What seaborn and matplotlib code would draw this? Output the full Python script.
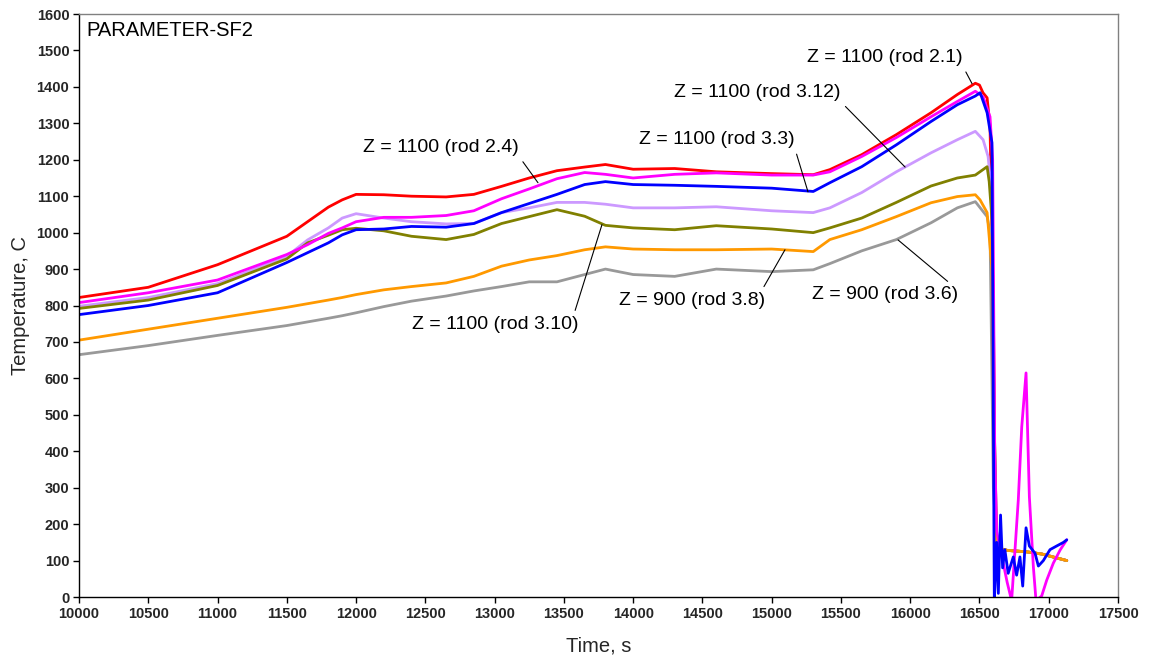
import matplotlib
matplotlib.use("Agg")
import matplotlib.pyplot as plt
import seaborn as sns
import pandas as pd

# ---- data ----
t_main = [10000, 10500, 11000, 11500, 11650, 11800, 11900, 12000, 12200, 12400,
          12650, 12850, 13050, 13250, 13450, 13650, 13800, 14000, 14300, 14600,
          15000, 15300, 15420, 15650, 15900, 16150, 16340, 16470]

red_main = [822, 850, 912, 990, 1030, 1070, 1090, 1105, 1104, 1100,
            1098, 1105, 1127, 1150, 1170, 1180, 1187, 1174, 1176, 1167,
            1162, 1159, 1173, 1214, 1269, 1329, 1379, 1410]
magenta_main = [808, 835, 870, 940, 967, 998, 1013, 1030, 1042, 1042,
                1047, 1060, 1093, 1120, 1148, 1165, 1160, 1150, 1160, 1164,
                1158, 1158, 1167, 1209, 1261, 1318, 1360, 1388]
blue_main = [775, 800, 835, 918, 945, 972, 994, 1008, 1010, 1017,
             1015, 1025, 1055, 1080, 1105, 1132, 1140, 1132, 1130, 1127,
             1122, 1113, 1137, 1181, 1241, 1305, 1351, 1375]
violet_main = [798, 822, 860, 935, 980, 1013, 1040, 1052, 1040, 1030,
               1024, 1025, 1055, 1068, 1083, 1083, 1078, 1068, 1068, 1071,
               1060, 1055, 1068, 1110, 1167, 1219, 1255, 1278]
olive_main = [792, 815, 855, 928, 972, 993, 1008, 1012, 1005, 990,
              981, 995, 1025, 1044, 1063, 1045, 1020, 1013, 1008, 1019,
              1010, 1000, 1013, 1040, 1083, 1128, 1150, 1158]
orange_main = [705, 735, 765, 795, 805, 815, 822, 830, 843, 852,
               862, 880, 908, 925, 937, 953, 961, 955, 953, 953,
               955, 948, 981, 1008, 1044, 1082, 1099, 1104]
gray_main = [665, 690, 718, 745, 755, 765, 772, 780, 797, 812,
             826, 840, 852, 865, 865, 885, 900, 885, 880, 900,
             893, 898, 915, 950, 981, 1027, 1068, 1085]

# end of heating and quench
red_t_end = [16500, 16525, 16555, 16576, 16600, 16612]
red_v_end = [1405, 1384, 1370, 1291, 800, 300]
magenta_t_end = [16526, 16576, 16595, 16610]
magenta_v_end = [1373, 1318, 1200, 400]
blue_t_end = [16505, 16555, 16590]
blue_v_end = [1384, 1329, 1247]
violet_t_end = [16526, 16562, 16590, 16605]
violet_v_end = [1255, 1209, 1100, 500]
olive_t_end = [16555, 16570, 16590, 16605]
olive_v_end = [1181, 1140, 1036, 500]
orange_t_end = [16504, 16555, 16590, 16605]
orange_v_end = [1090, 1055, 900, 400]
gray_t_end = [16555, 16576, 16590, 16600]
gray_v_end = [1044, 1000, 600, 300]

# common post-quench tail
tail_t = [16625, 16700, 16840, 16950, 17050, 17130]
tail_v = [135, 128, 124, 118, 108, 100]

magenta_tail_t = [16624, 16700, 16732, 16780, 16805, 16836, 16860, 16889, 16908,
                  16949, 16985, 17033, 17082, 17130]
magenta_tail_v = [180, 40, -10, 266, 467, 615, 275, 82, -10,
                  3, 46, 93, 129, 157]
blue_tail_t = [16607, 16624, 16636, 16652, 16667, 16683, 16707, 16744, 16768,
               16792, 16812, 16836, 16860, 16901, 16925, 16961, 17009, 17057,
               17106, 17130]
blue_tail_v = [-10, 150, 10, 225, 80, 130, 65, 110, 60,
               110, 30, 190, 140, 120, 85, 100, 130, 140,
               150, 157]

labels = ["Z = 1100 (rod 2.1)", "Z = 1100 (rod 3.12)", "Z = 1100 (rod 3.10)",
          "Z = 900 (rod 3.6)", "Z = 900 (rod 3.8)", "Z = 1100 (rod 2.4)",
          "Z = 1100 (rod 3.3)"]
colors = ["#FF0000", "#CC99FF", "#808000", "#999999", "#FF9900", "#FF00FF", "#0000FF"]

series_t = [
    t_main + red_t_end + tail_t,
    t_main + violet_t_end + tail_t,
    t_main + olive_t_end + tail_t,
    t_main + gray_t_end + tail_t,
    t_main + orange_t_end + tail_t,
    t_main + magenta_t_end + magenta_tail_t,
    t_main + blue_t_end + blue_tail_t,
]
series_v = [
    red_main + red_v_end + tail_v,
    violet_main + violet_v_end + tail_v,
    olive_main + olive_v_end + tail_v,
    gray_main + gray_v_end + tail_v,
    orange_main + orange_v_end + tail_v,
    magenta_main + magenta_v_end + magenta_tail_v,
    blue_main + blue_v_end + blue_tail_v,
]

rows = []
for lab, ts, vs in zip(labels, series_t, series_v):
    for t, v in zip(ts, vs):
        rows.append({"time": t, "temp": v, "series": lab})
df = pd.DataFrame(rows)

# annotations: (text, text x, text y, target x, target y, relpos)
annotations = [
    ("Z = 1100 (rod 2.1)", 15818, 1480, 16446, 1409, (1.0, 0.0)),
    ("Z = 1100 (rod 3.12)", 14894, 1384, 15963, 1180, (1.0, 0.0)),
    ("Z = 1100 (rod 3.3)", 14605, 1255, 15262, 1112, (1.0, 0.0)),
    ("Z = 1100 (rod 2.4)", 12613, 1233, 13313, 1137, (1.0, 0.0)),
    ("Z = 1100 (rod 3.10)", 13003, 747, 13775, 1022, (0.97, 1.0)),
    ("Z = 900 (rod 3.8)", 14425, 813, 15096, 953, (0.97, 1.0)),
    ("Z = 900 (rod 3.6)", 15818, 829, 15912, 980, (0.97, 1.0)),
]

x_ticks = list(range(10000, 17501, 500))
y_ticks = list(range(0, 1601, 100))

# ---- plotting ----
sns.set_theme(style="white")
plt.rcParams["font.family"] = ["Liberation Sans", "DejaVu Sans"]

fig = plt.figure(figsize=(11.5, 6.61), dpi=100)
ax = fig.add_axes([0.0687, 0.0968, 0.9035, 0.882])

sns.lineplot(data=df, x="time", y="temp", hue="series", hue_order=labels,
             palette=dict(zip(labels, colors)), estimator=None, sort=False,
             legend=False, linewidth=2.0, ax=ax)

ax.set_xlim(10000, 17500)
ax.set_ylim(0, 1600)
ax.set_xticks(x_ticks)
ax.set_yticks(y_ticks)
ax.tick_params(axis="both", which="major", direction="out", length=4, width=1,
               color="black", labelsize=10.5, pad=3, bottom=True, left=True)
for lab in ax.get_xticklabels() + ax.get_yticklabels():
    lab.set_fontweight("bold")

for side in ["left", "bottom"]:
    ax.spines[side].set_color("black")
    ax.spines[side].set_linewidth(1.0)
for side in ["top", "right"]:
    ax.spines[side].set_visible(True)
    ax.spines[side].set_color("#808080")
    ax.spines[side].set_linewidth(1.0)

ax.set_xlabel("Time, s", fontsize=14.5, labelpad=11)
ax.set_ylabel("Temperature, C", fontsize=14.5, labelpad=5)

ax.text(10050, 1555, "PARAMETER-SF2", fontsize=14.5,
        ha="left", va="center", color="black")

for txt, tx, ty, px, py, rp in annotations:
    ax.annotate(txt, xy=(px, py), xytext=(tx, ty), ha="center", va="center",
                fontsize=14, color="black",
                arrowprops=dict(arrowstyle="-", color="black", lw=0.8,
                                relpos=rp, shrinkA=2, shrinkB=0))

fig.savefig("out.png", dpi=100, facecolor="white")
